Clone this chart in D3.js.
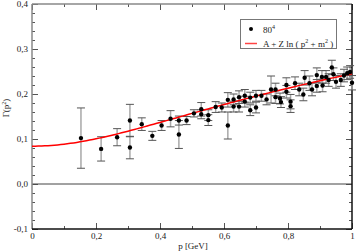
<!DOCTYPE html>
<html>
<head>
<meta charset="utf-8">
<script src="https://cdn.jsdelivr.net/npm/d3@7"></script>
<style>
  body { margin: 0; background: #fff; }
  svg { display: block; }
  text { font-family: "Liberation Serif", "DejaVu Serif", serif; }
</style>
</head>
<body>
<script>
// data
const pValues = [0.153, 0.216, 0.266, 0.306, 0.306, 0.343, 0.376, 0.405, 0.433, 0.459,
  0.459, 0.483, 0.506, 0.529, 0.529, 0.551, 0.551, 0.574, 0.593, 0.612,
  0.612, 0.630, 0.630, 0.647, 0.647, 0.665, 0.665, 0.682, 0.682, 0.700,
  0.700, 0.717, 0.733, 0.747, 0.761, 0.761, 0.775, 0.778, 0.795, 0.795,
  0.808, 0.808, 0.822, 0.835, 0.848, 0.852, 0.867, 0.875, 0.890, 0.890,
  0.906, 0.908, 0.919, 0.927, 0.937, 0.942, 0.950, 0.965, 0.975, 0.985,
  0.994, 1.000];
const gammaValues = [0.102, 0.078, 0.104, 0.141, 0.081, 0.133, 0.107, 0.130, 0.145, 0.141,
  0.110, 0.141, 0.157, 0.166, 0.155, 0.153, 0.142, 0.171, 0.170, 0.187,
  0.130, 0.188, 0.172, 0.193, 0.172, 0.196, 0.183, 0.192, 0.164, 0.196,
  0.170, 0.196, 0.188, 0.210, 0.210, 0.193, 0.190, 0.182, 0.220, 0.205,
  0.183, 0.173, 0.224, 0.210, 0.199, 0.236, 0.224, 0.210, 0.242, 0.218,
  0.238, 0.219, 0.238, 0.231, 0.259, 0.244, 0.227, 0.231, 0.241, 0.246,
  0.249, 0.225];
const errValues = [0.067, 0.027, 0.019, 0.036, 0.025, 0.014, 0.010, 0.011, 0.018, 0.010,
  0.031, 0.009, 0.008, 0.015, 0.010, 0.012, 0.012, 0.012, 0.010, 0.016,
  0.030, 0.012, 0.012, 0.014, 0.012, 0.014, 0.012, 0.012, 0.012, 0.012,
  0.012, 0.012, 0.012, 0.030, 0.014, 0.014, 0.012, 0.012, 0.016, 0.014,
  0.016, 0.014, 0.014, 0.014, 0.014, 0.016, 0.016, 0.014, 0.016, 0.014,
  0.014, 0.014, 0.014, 0.014, 0.016, 0.014, 0.014, 0.014, 0.014, 0.014,
  0.014, 0.016];

// fit parameters: A + Z ln(p^2 + m^2)
const fitA = 0.2286;
const fitZ = 0.0898;
const fitM2 = 0.2;

const xTicks = [0, 0.2, 0.4, 0.6, 0.8, 1];
const xTickLabels = ["0", "0,2", "0,4", "0,6", "0,8", "1"];
const yTicks = [-0.1, 0, 0.1, 0.2, 0.3, 0.4];
const yTickLabels = ["-0,1", "0,0", "0,1", "0,2", "0,3", "0,4"];

const W = 356, H = 252;
const pl = 32, pr = 352, pt = 4, pb = 229;

const svg = d3.select("body").append("svg")
  .attr("width", W).attr("height", H);

const x = d3.scaleLinear().domain([0, 1]).range([pl, pr]);
const y = d3.scaleLinear().domain([-0.1, 0.4]).range([pb, pt]);

const xMinor = d3.range(0, 1.0001, 0.1).filter(v => !xTicks.some(t => Math.abs(t - v) < 1e-6));
const yMinor = d3.range(-0.1, 0.4001, 0.02).filter(v => !yTicks.some(t => Math.abs(t - v) < 1e-6));

function styleAxis(g) {
  g.select(".domain").remove();
  g.selectAll("line").attr("stroke", "#555").attr("stroke-width", 1);
  g.selectAll("text").attr("font-size", 9).attr("fill", "#222")
    .style("font-family", "'Liberation Serif', serif");
}

// minor ticks
svg.append("g").attr("transform", `translate(0,${pb})`)
  .call(d3.axisBottom(x).tickValues(xMinor).tickSize(-3).tickFormat(""))
  .call(styleAxis);
svg.append("g").attr("transform", `translate(0,${pt})`)
  .call(d3.axisTop(x).tickValues(xMinor).tickSize(-3).tickFormat(""))
  .call(styleAxis);
svg.append("g").attr("transform", `translate(${pl},0)`)
  .call(d3.axisLeft(y).tickValues(yMinor).tickSize(-3).tickFormat(""))
  .call(styleAxis);
svg.append("g").attr("transform", `translate(${pr},0)`)
  .call(d3.axisRight(y).tickValues(yMinor).tickSize(-3).tickFormat(""))
  .call(styleAxis);

// major ticks
svg.append("g").attr("transform", `translate(0,${pb})`)
  .call(d3.axisBottom(x).tickValues(xTicks).tickSize(-6).tickPadding(4)
    .tickFormat((d, i) => xTickLabels[i]))
  .call(styleAxis);
svg.append("g").attr("transform", `translate(0,${pt})`)
  .call(d3.axisTop(x).tickValues(xTicks).tickSize(-6).tickFormat(""))
  .call(styleAxis);
svg.append("g").attr("transform", `translate(${pl},0)`)
  .call(d3.axisLeft(y).tickValues(yTicks).tickSize(-6).tickPadding(4)
    .tickFormat((d, i) => yTickLabels[i]))
  .call(styleAxis);
svg.append("g").attr("transform", `translate(${pr},0)`)
  .call(d3.axisRight(y).tickValues(yTicks).tickSize(-6).tickFormat(""))
  .call(styleAxis);

// zero line
svg.append("line")
  .attr("x1", pl).attr("x2", pr)
  .attr("y1", y(0)).attr("y2", y(0))
  .attr("stroke", "#444").attr("stroke-width", 1);

// frame
svg.append("line").attr("x1", pl).attr("x2", pl).attr("y1", pt).attr("y2", pb)
  .attr("stroke", "#888").attr("stroke-width", 1.5);
svg.append("line").attr("x1", pl).attr("x2", pr).attr("y1", pt).attr("y2", pt)
  .attr("stroke", "#888").attr("stroke-width", 1.5);
svg.append("line").attr("x1", pl).attr("x2", pr).attr("y1", pb).attr("y2", pb)
  .attr("stroke", "#111").attr("stroke-width", 1.5);
svg.append("line").attr("x1", pr).attr("x2", pr).attr("y1", pt).attr("y2", pb)
  .attr("stroke", "#111").attr("stroke-width", 1.5);

// error bars
const pts = pValues.map((p, i) => ({ p: p, g: gammaValues[i], e: errValues[i] }));
const eb = svg.append("g");
eb.selectAll("line.bar").data(pts).enter().append("line")
  .attr("x1", d => x(d.p)).attr("x2", d => x(d.p))
  .attr("y1", d => y(d.g + d.e)).attr("y2", d => y(d.g - d.e))
  .attr("stroke", "#a8a8a8").attr("stroke-width", 1.5);
[1, -1].forEach(s => {
  eb.selectAll("line.cap" + s).data(pts).enter().append("line")
    .attr("x1", d => x(d.p) - 4).attr("x2", d => x(d.p) + 4)
    .attr("y1", d => y(d.g + s * d.e)).attr("y2", d => y(d.g + s * d.e))
    .attr("stroke", "#555").attr("stroke-width", 1);
});

// fit curve
const fitP = d3.range(0, 1.0001, 0.01);
svg.append("path")
  .datum(fitP)
  .attr("fill", "none").attr("stroke", "#f00").attr("stroke-width", 1.5)
  .attr("d", d3.line().x(p => x(p)).y(p => y(fitA + fitZ * Math.log(p * p + fitM2))));

// points
svg.append("g").selectAll("circle").data(pts).enter().append("circle")
  .attr("cx", d => x(d.p)).attr("cy", d => y(d.g))
  .attr("r", 2.2).attr("fill", "#000");

// legend
const lg = svg.append("g");
lg.append("rect").attr("x", 240.5).attr("y", 19.5).attr("width", 96).attr("height", 29)
  .attr("fill", "#fff").attr("stroke", "#777").attr("stroke-width", 1);
lg.append("circle").attr("cx", 251).attr("cy", 29).attr("r", 2).attr("fill", "#000");
const t1 = lg.append("text").attr("x", 263).attr("y", 33).attr("font-size", 9).attr("fill", "#222");
t1.append("tspan").text("80");
t1.append("tspan").attr("dy", -4).attr("font-size", 6).text("4");
lg.append("line").attr("x1", 245).attr("x2", 257).attr("y1", 43.5).attr("y2", 43.5)
  .attr("stroke", "#f44").attr("stroke-width", 1.5);
const t2 = lg.append("text").attr("x", 263).attr("y", 47).attr("font-size", 9).attr("fill", "#222");
t2.append("tspan").text("A + Z ln ( p");
t2.append("tspan").attr("dy", -4).attr("font-size", 6).text("2");
t2.append("tspan").attr("dy", 4).text(" + m");
t2.append("tspan").attr("dy", -4).attr("font-size", 6).text("2");
t2.append("tspan").attr("dy", 4).text(" )");

// axis labels
svg.append("text").attr("x", 193).attr("y", 249).attr("text-anchor", "middle")
  .attr("font-size", 9).attr("fill", "#222").text("p  [GeV]");
const yl = svg.append("text")
  .attr("transform", "translate(9,108) rotate(-90)")
  .attr("text-anchor", "middle").attr("font-size", 9).attr("fill", "#222");
yl.append("tspan").text("Γ(p");
yl.append("tspan").attr("dy", -3).attr("font-size", 6).text("2");
yl.append("tspan").attr("dy", 3).text(")");
</script>
</body>
</html>
